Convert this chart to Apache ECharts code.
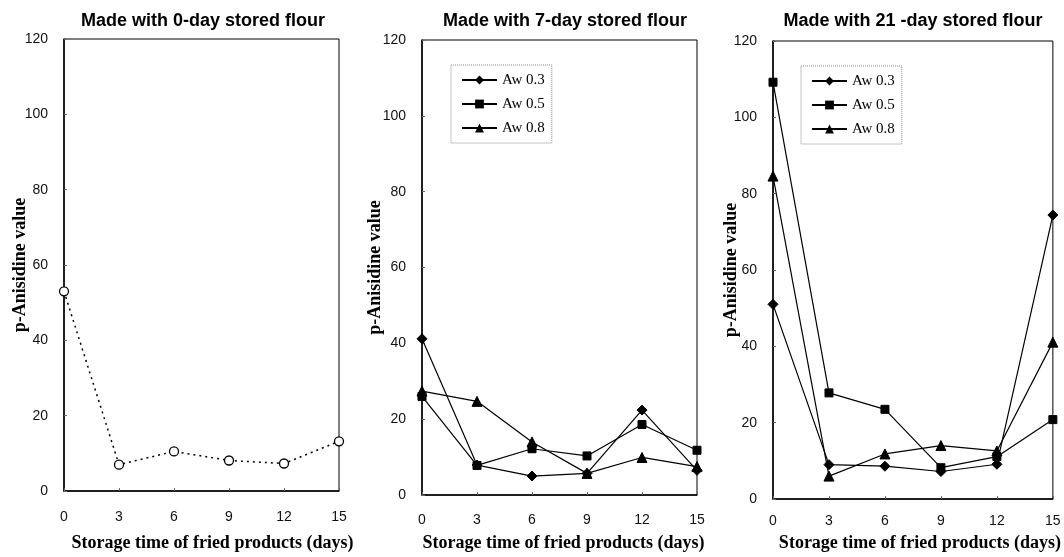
<!DOCTYPE html>
<html>
<head>
<meta charset="utf-8">
<script src="https://cdn.jsdelivr.net/npm/echarts@6/dist/echarts.min.js"></script>
<style>
html,body{margin:0;padding:0;background:#fff;}
#chart{width:1064px;height:557px;}
</style>
</head>
<body>
<div id="chart"></div>
<script>
// ---- data ----
const days = [0, 3, 6, 9, 12, 15];
const titles = ['Made with 0-day stored flour', 'Made with 7-day stored flour', 'Made with 21 -day stored flour'];
const seriesNames = ['Aw 0.3', 'Aw 0.5', 'Aw 0.8'];
const yTicks = [0, 20, 40, 60, 80, 100, 120];
const xTicks = [0, 3, 6, 9, 12, 15];

const flour0 = [53.0, 7.0, 10.5, 8.1, 7.3, 13.2];

const flour7_aw03 = [41.2, 7.9, 5.0, 5.7, 22.4, 6.5];
const flour7_aw05 = [26.0, 7.8, 12.2, 10.3, 18.6, 11.8];
const flour7_aw08 = [27.4, 24.7, 14.0, 5.7, 9.9, 7.5];

const flour21_aw03 = [51.0, 9.0, 8.6, 7.2, 9.1, 74.4];
const flour21_aw05 = [109.2, 27.8, 23.5, 8.2, 11.1, 20.8];
const flour21_aw08 = [84.6, 6.0, 11.8, 14.0, 12.6, 41.1];

const xName = 'Storage time of fried products (days)';
const yName = 'p-Anisidine value';

// ---- chart ----
const pairs = arr => days.map((d, i) => [d, arr[i]]);
const chart = echarts.init(document.getElementById('chart'), null, {renderer: 'canvas'});

const grids = [
  {left: 64, top: 39, width: 275, height: 455},
  {left: 422, top: 40, width: 275, height: 458},
  {left: 773, top: 41, width: 281, height: 461}
];
const titleCenters = [203, 565, 913];
const yNameGaps = [35, 38, 33];
const xNameGaps = [43, 39, 35];
const xNameShift = [22, 8, 14];
const xLabelMargins = [19, 18, 15];

const serifFont = '"Liberation Serif", "Times New Roman", serif';
const sansFont = '"Liberation Sans", Arial, Helvetica, sans-serif';

const xAxes = grids.map((g, i) => ({
  type: 'value', gridIndex: i, min: 0, max: 15, interval: 3,
  axisLine: {show: true, lineStyle: {color: '#000', width: 1.5}},
  axisTick: {show: true, inside: true, length: 3, lineStyle: {color: '#666', width: 1}},
  splitLine: {show: false},
  axisLabel: {color: '#111', fontSize: 14, fontFamily: sansFont, margin: xLabelMargins[i],
    formatter: v => xTicks.includes(v) ? String(v) : ''},
  name: xName, nameLocation: 'middle', nameGap: xNameGaps[i], nameMoveOverlap: false,
  nameTextStyle: {fontFamily: serifFont, fontWeight: 'bold', fontSize: 18, color: '#000',
    padding: [0, 0, 0, xNameShift[i]]}
}));
const yAxes = grids.map((g, i) => ({
  type: 'value', gridIndex: i, min: 0, max: 120, interval: 20,
  axisLine: {show: true, lineStyle: {color: '#000', width: 1.5}},
  axisTick: {show: true, inside: true, length: 3, lineStyle: {color: '#666', width: 1}},
  splitLine: {show: false},
  axisLabel: {color: '#111', fontSize: 14, fontFamily: sansFont, margin: 16,
    formatter: v => yTicks.includes(v) ? String(v) : ''},
  name: yName, nameLocation: 'middle', nameGap: yNameGaps[i], nameMoveOverlap: false,
  nameTextStyle: {fontFamily: serifFont, fontWeight: 'bold', fontSize: 18, color: '#000'}
}));

const lineStyleSolid = {color: '#000', width: 1.2};
function mk(name, data, gi, symbol, size) {
  return {
    name: name, type: 'line', xAxisIndex: gi, yAxisIndex: gi,
    data: pairs(data), symbol: symbol, symbolSize: size,
    itemStyle: {color: '#000', borderColor: '#000'},
    lineStyle: lineStyleSolid, emphasis: {disabled: true}, animation: false
  };
}

const series = [
  {
    name: 'flour0', type: 'line', xAxisIndex: 0, yAxisIndex: 0,
    data: pairs(flour0), symbol: 'circle', symbolSize: 9,
    itemStyle: {color: '#fff', borderColor: '#000', borderWidth: 1.3},
    lineStyle: {color: '#000', width: 1.5, type: [2, 4]},
    emphasis: {disabled: true}, animation: false
  },
  mk(seriesNames[0], flour7_aw03, 1, 'diamond', 10),
  mk(seriesNames[1], flour7_aw05, 1, 'rect', 8),
  mk(seriesNames[2], flour7_aw08, 1, 'triangle', 10),
  mk(seriesNames[0], flour21_aw03, 2, 'diamond', 10),
  mk(seriesNames[1], flour21_aw05, 2, 'rect', 8),
  mk(seriesNames[2], flour21_aw08, 2, 'triangle', 10)
];

const legendBase = {
  orient: 'vertical', data: seriesNames,
  itemWidth: 35, itemHeight: 11, itemGap: 8,
  padding: [7, 7, 7, 10],
  borderColor: '#888', borderWidth: 1, borderType: 'dotted',
  textStyle: {fontFamily: serifFont, fontSize: 15, color: '#000', lineHeight: 16},
  selectedMode: false
};

chart.setOption({
  backgroundColor: '#fff',
  animation: false,
  title: titles.map((t, i) => ({
    text: t, left: titleCenters[i], top: 12, textAlign: 'center', padding: 0,
    textStyle: {fontFamily: sansFont, fontWeight: 'bold', fontSize: 18, color: '#000'}
  })),
  grid: grids.map(g => Object.assign({show: true, borderColor: '#000', borderWidth: 1, backgroundColor: 'transparent'}, g)),
  xAxis: xAxes,
  yAxis: yAxes,
  legend: [
    Object.assign({left: 451, top: 65}, legendBase),
    Object.assign({left: 801, top: 66}, legendBase)
  ],
  series: series
});
</script>
</body>
</html>
